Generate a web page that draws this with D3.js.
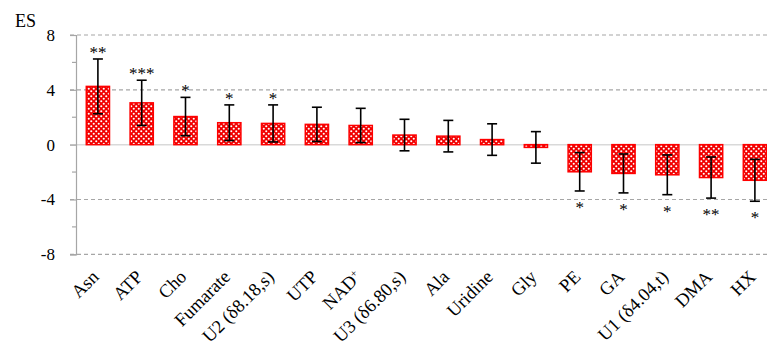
<!DOCTYPE html>
<html>
<head>
<meta charset="utf-8">
<script src="https://cdn.jsdelivr.net/npm/d3@7"></script>
<style>
html,body{margin:0;padding:0;background:#fff;}
svg{display:block;}
text{font-family:"Liberation Serif","DejaVu Serif",serif;fill:#000;}
</style>
</head>
<body>
<svg id="chart" width="767" height="348"></svg>
<script>
const categories = ["Asn","ATP","Cho","Fumarate","U2 (δ8.18,s)","UTP","NAD+","U3 (δ6.80,s)","Ala","Uridine","Gly","PE","GA","U1 (δ4.04,t)","DMA","HX"];
const esValues   = [4.25, 3.05, 2.05, 1.6, 1.55, 1.48, 1.4, 0.7, 0.62, 0.37, -0.2, -1.98, -2.1, -2.2, -2.4, -2.6];
const errValues  = [2.0, 1.65, 1.4, 1.3, 1.35, 1.25, 1.25, 1.15, 1.15, 1.15, 1.15, 1.4, 1.42, 1.45, 1.5, 1.53];
const stars      = ["**","***","*","*","*","","","","","","","*","*","*","**","*"];
const majorTicks = [-8,-4,0,4,8];
const minorTicks = [-6,-2,2,6];

const svg = d3.select("#chart");
const defs = svg.append("defs");
const pat = defs.append("pattern").attr("id","dots").attr("patternUnits","userSpaceOnUse")
  .attr("width",5).attr("height",5);
pat.append("rect").attr("width",5).attr("height",5).attr("fill","#f00000");
pat.append("circle").attr("cx",1.25).attr("cy",1.25).attr("r",1.05).attr("fill","#fff");
pat.append("circle").attr("cx",3.75).attr("cy",3.75).attr("r",1.05).attr("fill","#fff");

const x = d3.scaleBand().domain(categories).range([76, 776.8]).paddingInner(0.47).paddingOuter(0.235);
const y = d3.scaleLinear().domain([-8, 8]).range([254.3, 35]);

// gridlines
svg.append("g").selectAll("line").data(majorTicks.filter(d => d !== 0)).join("line")
  .attr("x1",70).attr("x2",767).attr("y1",d=>y(d)).attr("y2",d=>y(d))
  .attr("stroke","#a6a6a6").attr("stroke-width",1.2).attr("stroke-dasharray","4,3");
svg.append("line").attr("x1",70).attr("x2",767).attr("y1",y(0)).attr("y2",y(0))
  .attr("stroke","#d9d9d9").attr("stroke-width",1.5);

// y axis
const yAxis = d3.axisLeft(y).tickValues(majorTicks).tickSize(6).tickPadding(15).tickFormat(d => String(d));
const gy = svg.append("g").attr("transform","translate(76,0)").call(yAxis);
gy.select(".domain").attr("stroke","#a6a6a6").attr("stroke-width",1.2);
gy.selectAll(".tick line").attr("stroke","#a6a6a6").attr("stroke-width",1.2);
gy.selectAll(".tick text").attr("font-size","17px").attr("font-family","'Liberation Serif',serif").attr("fill","#000");
svg.append("g").selectAll("line").data(minorTicks).join("line")
  .attr("x1",72).attr("x2",76).attr("y1",d=>y(d)).attr("y2",d=>y(d))
  .attr("stroke","#a6a6a6").attr("stroke-width",1.2);

svg.append("text").attr("x",15).attr("y",27).attr("font-size","18px").text("ES");

const data = categories.map((c,i)=>({c, v:esValues[i], e:errValues[i], s:stars[i]}));

// bars
svg.append("g").selectAll("rect").data(data).join("rect")
  .attr("x", d=>x(d.c)).attr("width", x.bandwidth())
  .attr("y", d=>y(Math.max(0,d.v))).attr("height", d=>Math.abs(y(d.v)-y(0)))
  .attr("fill","url(#dots)").attr("stroke","#ff0000").attr("stroke-width",1.5);

// error bars
const eg = svg.append("g").attr("stroke","#000").attr("stroke-width",1.6);
data.forEach(d=>{
  const cx = x(d.c) + x.bandwidth()/2;
  eg.append("line").attr("x1",cx).attr("x2",cx).attr("y1",y(d.v+d.e)).attr("y2",y(d.v-d.e));
  eg.append("line").attr("x1",cx-5).attr("x2",cx+5).attr("y1",y(d.v+d.e)).attr("y2",y(d.v+d.e));
  eg.append("line").attr("x1",cx-5).attr("x2",cx+5).attr("y1",y(d.v-d.e)).attr("y2",y(d.v-d.e));
});

// stars
svg.append("g").selectAll("text").data(data.filter(d=>d.s)).join("text")
  .attr("x", d=>x(d.c)+x.bandwidth()/2)
  .attr("y", d=> d.v>0 ? y(d.v+d.e)-1 : y(d.v-d.e)+22)
  .attr("text-anchor","middle").attr("font-size","17px").text(d=>d.s);

// x labels
const xl = svg.append("g").selectAll("text").data(categories).join("text")
  .attr("text-anchor","end").attr("font-size","18.5px")
  .attr("transform", d=>`translate(${x(d)+x.bandwidth()/2+2},${278}) rotate(-45)`);
xl.each(function(d){
  const t = d3.select(this);
  if (d === "NAD+") {
    t.append("tspan").text("NAD");
    t.append("tspan").attr("baseline-shift","super").attr("font-size","11px").text("+");
  } else t.text(d);
});
</script>
</body>
</html>
